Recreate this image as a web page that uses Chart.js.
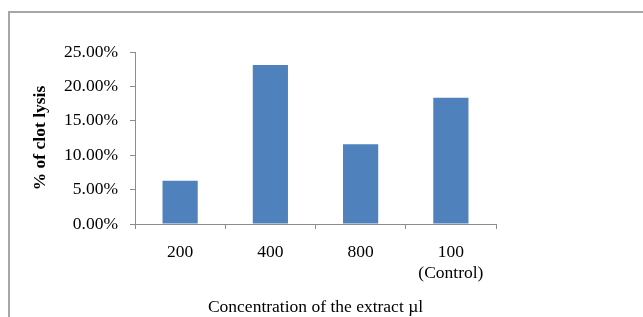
<!DOCTYPE html>
<html>
<head>
<meta charset="utf-8">
<script src="https://cdn.jsdelivr.net/npm/chart.js@4"></script>
<style>
    html, body { margin: 0; padding: 0; background: #fff; overflow: hidden; }
    #wrap { position: relative; width: 643px; height: 317px; }
    #frame {
        position: absolute; left: 8px; top: 11px; width: 700px; height: 400px;
        border-left: 2px solid #a6a6a6; border-top: 2px solid #a6a6a6;
    }
    canvas { position: absolute; left: 0; top: 0; }
</style>
</head>
<body>
<div id="wrap">
    <div id="frame"></div>
    <canvas id="lysisChart" width="643" height="317"></canvas>
</div>
<script>
// Concentrations on the x axis
const categories = ['200', '400', '800', ['100', '(Control)']];
// % of clot lysis
const lysisValues = [6.3, 23.1, 11.6, 18.35];
// y axis ticks (percent)
const yTicks = [0, 5, 10, 15, 20, 25];

const serif = "'Liberation Serif', 'Times New Roman', serif";
const axisGrey = '#8c8c8c';

const ctx = document.getElementById('lysisChart').getContext('2d');
new Chart(ctx, {
    type: 'bar',
    data: {
        labels: categories,
        datasets: [{
            data: lysisValues,
            backgroundColor: '#4f81bd',
            borderWidth: 0,
            categoryPercentage: 1,
            barPercentage: 0.39
        }]
    },
    options: {
        responsive: false,
        animation: false,
        layout: { padding: { top: 52, right: 147, bottom: 0, left: 0 } },
        plugins: {
            legend: { display: false },
            tooltip: { enabled: false }
        },
        scales: {
            x: {
                grid: {
                    display: true,
                    drawOnChartArea: false,
                    offset: true,
                    color: axisGrey,
                    tickLength: 5
                },
                border: { color: axisGrey, width: 1 },
                ticks: {
                    color: '#000',
                    padding: 13,
                    font: { family: serif, size: 17.5, lineHeight: 1.2 },
                    maxRotation: 0
                },
                title: {
                    display: true,
                    text: 'Concentration of the extract µl',
                    color: '#000',
                    font: { family: serif, size: 17.5 },
                    padding: { top: 0, bottom: -1 }
                },
                afterFit: (scale) => { scale.height = 93; }
            },
            y: {
                min: 0,
                max: 25,
                grid: {
                    display: true,
                    drawOnChartArea: false,
                    color: axisGrey,
                    tickLength: 5
                },
                border: { color: axisGrey, width: 1 },
                afterBuildTicks: (scale) => {
                    scale.ticks = yTicks.map(v => ({ value: v }));
                },
                ticks: {
                    color: '#000',
                    padding: 12,
                    font: { family: serif, size: 17.5 },
                    callback: (value) => Number(value).toFixed(2) + '%'
                },
                title: {
                    display: true,
                    text: '% of clot lysis',
                    color: '#000',
                    font: { family: serif, size: 17.5, weight: 'bold' },
                    padding: { top: 30, bottom: 0 }
                },
                afterFit: (scale) => { scale.width = 135; }
            }
        }
    }
});
</script>
</body>
</html>
